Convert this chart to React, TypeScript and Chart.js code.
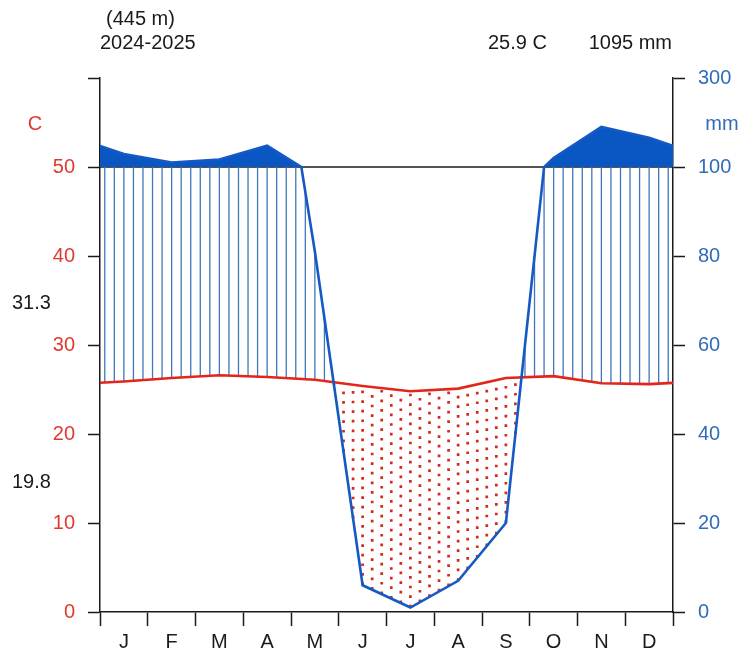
import React, { useEffect, useRef } from 'react';
import { Chart, registerables } from 'chart.js';

Chart.register(...registerables);

// ---- data ----
const months = ['J', 'F', 'M', 'A', 'M', 'J', 'J', 'A', 'S', 'O', 'N', 'D'];
const temperature = [25.9, 26.3, 26.6, 26.4, 26.1, 25.4, 24.8, 25.1, 26.3, 26.5, 25.7, 25.6];
const precipitation = [129, 110, 117, 148, 81, 6, 1, 7, 20, 120, 190, 166];
const leftTicks = [0, 10, 20, 30, 40, 50, 60];
const leftTickLabels = ['0', '10', '20', '30', '40', '50', ''];
const rightTickLabels = ['0', '20', '40', '60', '80', '100', '300'];
const altitudeLabel = '(445 m)';
const periodLabel = '2024-2025';
const meanTempLabel = '25.9 C';
const totalPrecipLabel = '1095 mm';
const absMaxLabel = '31.3';
const absMinLabel = '19.8';
const tempUnit = 'C';
const precipUnit = 'mm';

// ---- styles ----
const FONT = '"Liberation Sans", Arial, Helvetica, sans-serif';
const AXIS = '#1a1a1a';
const RED_TEXT = '#e03a2e';
const BLUE_TEXT = '#2f6db8';
const TEMP_LINE = '#e2261b';
const PREC_LINE = '#1559c4';
const PREC_FILL = '#0a56c2';
const HATCH = '#3f76bb';
const DOTS = '#d42a1c';

// ---- helpers ----
const monthX = [0, ...months.map((_, i) => i + 0.5), 12];
const extend = (v: number[]) => {
  const edge = (v[0] + v[v.length - 1]) / 2;
  return [edge, ...v, edge];
};
const tempExt = extend(temperature);
const precExt = extend(precipitation);

function interp(xs: number[], vs: number[], x: number) {
  for (let i = 0; i < xs.length - 1; i++) {
    if (x >= xs[i] && x <= xs[i + 1]) {
      const f = (x - xs[i]) / (xs[i + 1] - xs[i]);
      return vs[i] + f * (vs[i + 1] - vs[i]);
    }
  }
  return vs[vs.length - 1];
}
const precipToScale = (p: number) => (p <= 100 ? p / 2 : 50 + (p - 100) / 20);

function precipPolyline() {
  const pts: { x: number; y: number }[] = [];
  for (let i = 0; i < monthX.length; i++) {
    if (i > 0) {
      const a = precExt[i - 1];
      const b = precExt[i];
      if ((a - 100) * (b - 100) < 0) {
        const f = (100 - a) / (b - a);
        pts.push({ x: monthX[i - 1] + f * (monthX[i] - monthX[i - 1]), y: 50 });
      }
    }
    pts.push({ x: monthX[i], y: precipToScale(precExt[i]) });
  }
  return pts;
}
const tempPoints = monthX.map((x, i) => ({ x, y: tempExt[i] }));
const precPoints = precipPolyline();
const xTicks: number[] = [];
for (let i = 0; i <= 24; i++) xTicks.push(i / 2);

const diagramPlugin = {
  id: 'walterLieth',
  beforeDatasetsDraw(chart: any) {
    const { ctx, chartArea, scales } = chart;
    const xs = scales.x;
    const ys = scales.y;
    ctx.save();
    // 100 mm reference line
    ctx.strokeStyle = AXIS;
    ctx.lineWidth = 1.5;
    ctx.beginPath();
    ctx.moveTo(chartArea.left, ys.getPixelForValue(50));
    ctx.lineTo(chartArea.right, ys.getPixelForValue(50));
    ctx.stroke();

    // humid hatching and dry dots
    for (let i = 0; i < 60; i++) {
      const m = 0.1 + 0.2 * i;
      const t = interp(monthX, tempExt, m);
      const p = precipToScale(interp(monthX, precExt, m));
      const px = xs.getPixelForValue(m);
      if (p > t) {
        ctx.setLineDash([]);
        ctx.strokeStyle = HATCH;
        ctx.lineWidth = 1.3;
        ctx.beginPath();
        ctx.moveTo(px, ys.getPixelForValue(t));
        ctx.lineTo(px, ys.getPixelForValue(Math.min(p, 50)));
        ctx.stroke();
      } else {
        ctx.setLineDash([2.7, 6.9]);
        ctx.strokeStyle = DOTS;
        ctx.lineWidth = 2.7;
        ctx.lineCap = 'butt';
        ctx.beginPath();
        ctx.moveTo(px, ys.getPixelForValue(p));
        ctx.lineTo(px, ys.getPixelForValue(t) + 2);
        ctx.stroke();
      }
    }
    ctx.setLineDash([]);

    // fill above 100 mm
    ctx.fillStyle = PREC_FILL;
    ctx.beginPath();
    ctx.moveTo(xs.getPixelForValue(precPoints[0].x), ys.getPixelForValue(50));
    for (const pt of precPoints) {
      ctx.lineTo(xs.getPixelForValue(pt.x), ys.getPixelForValue(Math.max(pt.y, 50)));
    }
    ctx.lineTo(xs.getPixelForValue(precPoints[precPoints.length - 1].x), ys.getPixelForValue(50));
    ctx.closePath();
    ctx.fill();
    ctx.restore();
  },
  afterDraw(chart: any) {
    const { ctx, scales } = chart;
    const ys = scales.y;
    ctx.save();
    ctx.font = `20px ${FONT}`;
    ctx.textBaseline = 'alphabetic';
    ctx.fillStyle = AXIS;
    ctx.textAlign = 'left';
    ctx.fillText(altitudeLabel, 106, 25);
    ctx.fillText(periodLabel, 100, 49);
    ctx.fillText(meanTempLabel, 488, 49);
    ctx.textAlign = 'right';
    ctx.fillText(totalPrecipLabel, 672, 49);
    ctx.textAlign = 'left';
    ctx.fillText(absMaxLabel, 12, 309);
    ctx.fillText(absMinLabel, 12, 488);
    ctx.textAlign = 'center';
    ctx.textBaseline = 'middle';
    ctx.fillStyle = RED_TEXT;
    ctx.fillText(tempUnit, 35, ys.getPixelForValue(55) + 2);
    ctx.fillStyle = BLUE_TEXT;
    ctx.fillText(precipUnit, 722, ys.getPixelForValue(55) + 2);
    ctx.restore();
  },
};

export default function App() {
  const ref = useRef<HTMLCanvasElement>(null);
  useEffect(() => {
    document.body.style.margin = '0';
    const chart = new Chart(ref.current as HTMLCanvasElement, {
      type: 'line',
      data: {
        datasets: [
          {
            data: precPoints,
            borderColor: PREC_LINE,
            borderWidth: 2.6,
            pointRadius: 0,
            tension: 0,
            yAxisID: 'y',
          },
          {
            data: tempPoints,
            borderColor: TEMP_LINE,
            borderWidth: 2.6,
            pointRadius: 0,
            tension: 0,
            yAxisID: 'y',
          },
        ],
      },
      options: {
        animation: false,
        responsive: false,
        devicePixelRatio: 1,
        layout: { padding: { top: 78, left: 0, right: 0, bottom: 0 } },
        plugins: { legend: { display: false }, tooltip: { enabled: false } },
        scales: {
          x: {
            type: 'linear',
            min: 0,
            max: 12,
            position: 'bottom',
            afterBuildTicks: (s: any) => {
              s.ticks = xTicks.map((v) => ({ value: v }));
            },
            afterFit: (s: any) => {
              s.height = 52;
            },
            ticks: {
              autoSkip: false,
              maxRotation: 0,
              padding: 4,
              color: AXIS,
              font: { family: FONT, size: 20 },
              callback: (v: any) => (Number.isInteger(v) ? '' : months[Math.floor(v)]),
            },
            grid: {
              drawOnChartArea: false,
              drawTicks: true,
              tickLength: 14,
              tickWidth: 1.5,
              tickColor: (c: any) => (c.tick && Number.isInteger(c.tick.value) ? AXIS : 'rgba(0,0,0,0)'),
            },
            border: { display: true, color: AXIS, width: 1.5 },
          },
          y: {
            type: 'linear',
            position: 'left',
            min: 0,
            max: 60,
            afterBuildTicks: (s: any) => {
              s.ticks = leftTicks.map((v) => ({ value: v }));
            },
            afterFit: (s: any) => {
              s.width = 100;
            },
            ticks: {
              padding: 13,
              color: RED_TEXT,
              font: { family: FONT, size: 20 },
              callback: (_v: any, i: number) => leftTickLabels[i],
            },
            grid: { drawOnChartArea: false, drawTicks: true, tickLength: 12, tickWidth: 1.5, tickColor: AXIS },
            border: { display: true, color: AXIS, width: 1.5 },
          },
          y2: {
            type: 'linear',
            position: 'right',
            min: 0,
            max: 60,
            afterBuildTicks: (s: any) => {
              s.ticks = leftTicks.map((v) => ({ value: v }));
            },
            afterFit: (s: any) => {
              s.width = 73;
            },
            ticks: {
              padding: 13,
              color: BLUE_TEXT,
              font: { family: FONT, size: 20 },
              callback: (_v: any, i: number) => rightTickLabels[i],
            },
            grid: { drawOnChartArea: false, drawTicks: true, tickLength: 12, tickWidth: 1.5, tickColor: AXIS },
            border: { display: true, color: AXIS, width: 1.5 },
          },
        },
      },
      plugins: [diagramPlugin],
    } as any);
    return () => chart.destroy();
  }, []);
  return (
    <div style={{ width: 746, height: 664 }}>
      <canvas ref={ref} width={746} height={664} style={{ display: 'block' }} />
    </div>
  );
}
